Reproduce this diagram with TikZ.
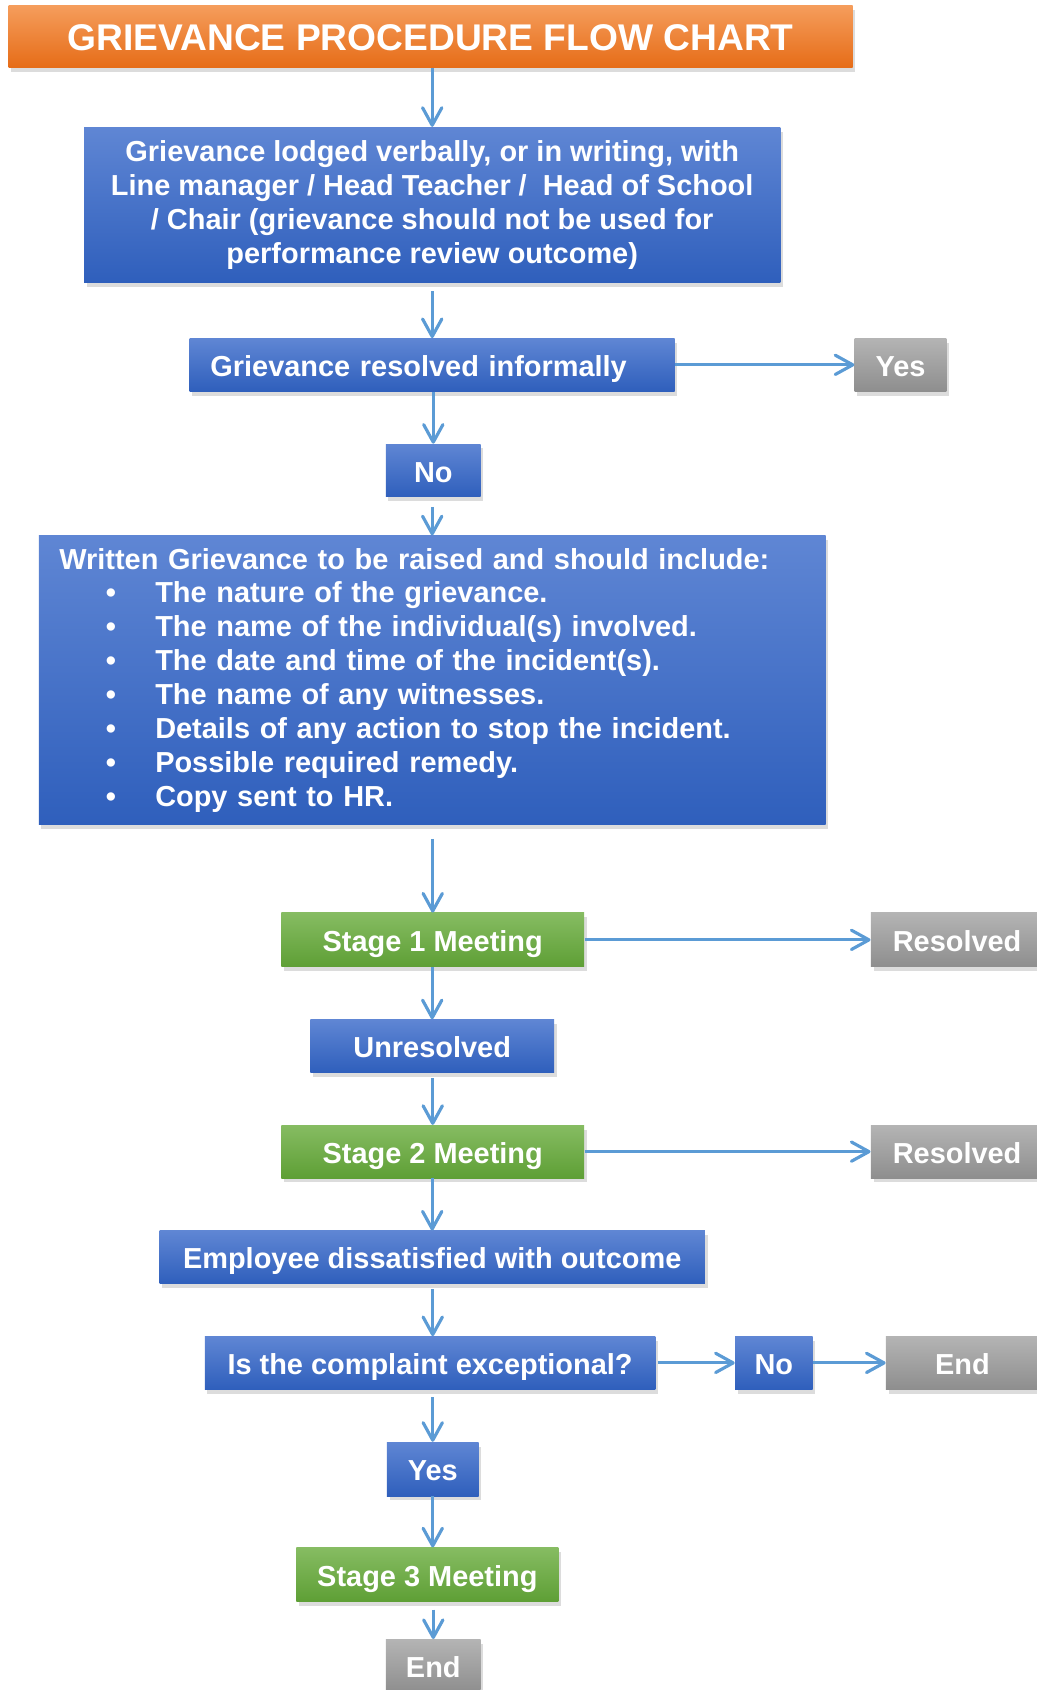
\documentclass[tikz,border=0pt]{standalone}
\usepackage{fontspec}
\setmainfont{Liberation Sans}
\usetikzlibrary{arrows.meta}
\usetikzlibrary{positioning}
\usetikzlibrary{shadows}
\definecolor{blueTop}{HTML}{5F86D4}
\definecolor{blueBottom}{HTML}{2F5FBC}
\definecolor{greenTop}{HTML}{86BC62}
\definecolor{greenBottom}{HTML}{5E9F35}
\definecolor{greyTop}{HTML}{B4B4B4}
\definecolor{greyBottom}{HTML}{8E8E8E}
\definecolor{orangeTop}{HTML}{F59D5C}
\definecolor{orangeBottom}{HTML}{E66C17}
\definecolor{arrowBlue}{HTML}{5B9BD5}
\newcommand\pxu{0.0216cm}
\newcommand\bulletline{\\\hspace*{26.5pt}\makebox[28.2pt][l]{\textbullet}}

\begin{document}
\begin{tikzpicture}[x=\pxu, y=-\pxu]
  \tikzset{flowbox/.style={font=\fontsize{16.5}{19.3}\selectfont\bfseries, text=white, inner sep=0pt,
      text height=13.2pt, text depth=0pt,
      drop shadow={shadow xshift=1.5pt, shadow yshift=-2.5pt, opacity=0.28}}}
  \tikzset{multiline/.style={text height={}, text depth={}}}
  \tikzset{boxsize/.style 2 args={minimum width=#1*\pxu, minimum height=#2*\pxu}}
  \tikzset{bluebox/.style={flowbox, top color=blueTop, bottom color=blueBottom}}
  \tikzset{greenbox/.style={flowbox, top color=greenTop, bottom color=greenBottom}}
  \tikzset{greybox/.style={flowbox, top color=greyTop, bottom color=greyBottom}}
  \tikzset{titlebox/.style={flowbox, top color=orangeTop, bottom color=orangeBottom, font=\fontsize{21.2}{24}\selectfont\bfseries, text height=16pt}}
  \tikzset{line/.style={draw=arrowBlue, line width=1.8pt, -{Straight Barb[length=10pt, width=11pt, round]}}}

  \useasboundingbox (0,0) rectangle (962,1568);

  \node[titlebox, boxsize={783}{58}] (title) at (399.5,34) {GRIEVANCE PROCEDURE FLOW CHART};
  \node[bluebox, multiline, boxsize={646}{144}, align=center] (lodged) at (401,190)
    {Grievance lodged verbally, or in writing, with\\Line manager / Head Teacher /\ \ Head of School\\/ Chair (grievance should not be used for\\performance review outcome)};
  \node[bluebox, boxsize={450}{49}, text width=253pt, align=left] (informal) at (401,338.5) {Grievance resolved informally};
  \node[greybox, boxsize={85}{49}] (yes1) at (835.5,338.5) {Yes};
  \node[bluebox, boxsize={88}{49}] (no1) at (402,436.5) {No};
  \node[bluebox, multiline, boxsize={730}{268}, text width=425.3pt, align=left] (written) at (401,631)
    {Written Grievance to be raised and should include:%
     \bulletline The nature of the grievance.%
     \bulletline The name of the individual(s) involved.%
     \bulletline The date and time of the incident(s).%
     \bulletline The name of any witnesses.%
     \bulletline Details of any action to stop the incident.%
     \bulletline Possible required remedy.%
     \bulletline Copy sent to HR.};
  \node[greenbox, boxsize={281}{50}] (stage1) at (401.5,872) {Stage 1 Meeting};
  \node[greybox, boxsize={160}{50}] (resolved1) at (888,872) {Resolved};
  \node[bluebox, boxsize={226}{49}] (unresolved) at (401,970.5) {Unresolved};
  \node[greenbox, boxsize={281}{49}] (stage2) at (401.5,1068.5) {Stage 2 Meeting};
  \node[greybox, boxsize={160}{49}] (resolved2) at (888,1068.5) {Resolved};
  \node[bluebox, boxsize={506}{49}] (dissatisfied) at (401,1166.5) {Employee dissatisfied with outcome};
  \node[bluebox, boxsize={418}{49}] (exceptional) at (399,1264.5) {Is the complaint exceptional?};
  \node[bluebox, boxsize={72}{49}] (no2) at (718,1264.5) {No};
  \node[greybox, boxsize={142}{49}] (end1) at (893,1264.5) {End};
  \node[bluebox, boxsize={85}{50}] (yes2) at (401.5,1363) {Yes};
  \node[greenbox, boxsize={243}{50}] (stage3) at (396.5,1461) {Stage 3 Meeting};
  \node[greybox, boxsize={88}{49}] (end2) at (402,1545.5) {End};

  \draw[line] (title.south -| lodged.north) -- (lodged.north);
  \draw[line, shorten <=5pt] (lodged) -- (informal);
  \draw[line] (informal.south -| no1.north) -- (no1.north);
  \draw[line, shorten <=5.5pt] (no1.south -| written.north) -- (written.north);
  \draw[line, shorten <=8pt] (written.south -| stage1.north) -- (stage1.north);
  \draw[line] (stage1.south -| unresolved.north) -- (unresolved.north);
  \draw[line, shorten <=3pt] (unresolved.south -| stage2.north) -- (stage2.north);
  \draw[line] (stage2.south -| dissatisfied.north) -- (dissatisfied.north);
  \draw[line, shorten <=3pt] (dissatisfied.south -| yes2.north) -- (exceptional.north -| yes2.north);
  \draw[line, shorten <=4.3pt] (exceptional.south -| yes2.north) -- (yes2.north);
  \draw[line] (yes2.south -| yes2.north) -- (stage3.north -| yes2.north);
  \draw[line, shorten <=4.3pt] (stage3.south -| end2.north) -- (end2.north);

  \draw[line] (informal) -- (yes1);
  \draw[line] (stage1) -- (resolved1);
  \draw[line] (stage2) -- (resolved2);
  \draw[line, shorten <=1.2pt] (exceptional) -- (no2);
  \draw[line] (no2) -- (end1);
\end{tikzpicture}
\end{document}
